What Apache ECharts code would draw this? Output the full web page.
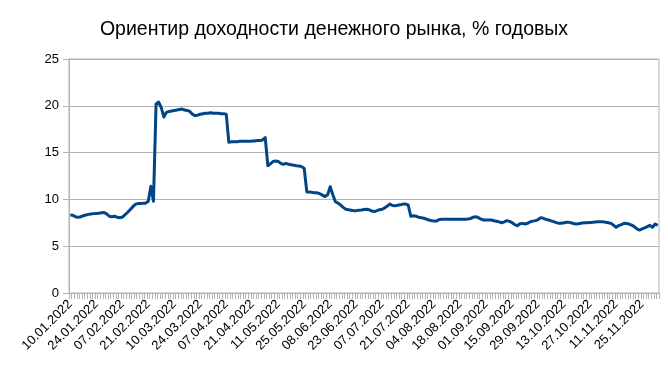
<!DOCTYPE html>
<html>
<head>
<meta charset="utf-8">
<script src="https://cdn.jsdelivr.net/npm/echarts@6/dist/echarts.min.js"></script>
<style>html,body{margin:0;padding:0;background:#fff}#c{width:668px;height:371px}</style>
</head>
<body>
<div id="c"></div>
<script>
// Trading days of 2022 shown on the chart (month -> days)
const tradingDays = [
  ["01", [10,11,12,13,14,17,18,19,20,21,24,25,26,27,28,31]],
  ["02", [1,2,3,4,7,8,9,10,11,14,15,16,17,18,21,22,24,25,28]],
  ["03", [1,2,3,4,9,10,11,14,15,16,17,18,21,22,23,24,25,28,29,30,31]],
  ["04", [1,4,5,6,7,8,11,12,13,14,15,18,19,20,21,22,25,26,27,28,29]],
  ["05", [4,5,6,11,12,13,16,17,18,19,20,23,24,25,26,27,30,31]],
  ["06", [1,2,3,6,7,8,9,10,14,15,16,17,20,21,22,23,24,27,28,29,30]],
  ["07", [1,4,5,6,7,8,11,12,13,14,15,18,19,20,21,22,25,26,27,28,29]],
  ["08", [1,2,3,4,5,8,9,10,11,12,15,16,17,18,19,22,23,24,25,26,29,30,31]],
  ["09", [1,2,5,6,7,8,9,12,13,14,15,16,19,20,21,22,23,26,27,28,29,30]],
  ["10", [3,4,5,6,7,10,11,12,13,14,17,18,19,20,21,24,25,26,27,28,31]],
  ["11", [1,2,3,7,8,9,10,11,14,15,16,17,18,21,22,23,24,25,28,29,30]],
  ["12", [1,2,5]]
];
const categories = [];
tradingDays.forEach(([m, ds]) => ds.forEach(d => categories.push(String(d).padStart(2,'0') + '.' + m + '.2022')));

const rates = [
  8.33, 8.3, 8.15, 8.08, 8.15, 8.25, 8.33, 8.4, 8.45, 8.48,
  8.5, 8.52, 8.58, 8.6, 8.45, 8.2, 8.15, 8.2, 8.1, 8.05,
  8.1, 8.35, 8.6, 8.9, 9.2, 9.47, 9.55, 9.55, 9.6, 9.6,
  9.8, 11.4, 9.8, 20.2, 20.4, 19.8, 18.8, 19.3, 19.4, 19.45,
  19.5, 19.55, 19.6, 19.65, 19.55, 19.5, 19.4, 19.1, 18.95, 19.0,
  19.1, 19.15, 19.2, 19.2, 19.25, 19.2, 19.2, 19.2, 19.15, 19.15,
  19.1, 16.1, 16.15, 16.15, 16.15, 16.2, 16.2, 16.2, 16.2, 16.2,
  16.25, 16.25, 16.3, 16.3, 16.35, 16.6, 13.6, 13.8, 14.05, 14.1,
  14.05, 13.85, 13.75, 13.85, 13.75, 13.7, 13.65, 13.6, 13.57, 13.5,
  13.3, 10.8, 10.8, 10.75, 10.7, 10.7, 10.6, 10.45, 10.3, 10.5,
  11.35, 10.5, 9.75, 9.6, 9.4, 9.15, 8.95, 8.9, 8.85, 8.8,
  8.8, 8.85, 8.87, 8.92, 8.95, 8.9, 8.75, 8.7, 8.8, 8.9,
  8.95, 9.1, 9.3, 9.5, 9.35, 9.33, 9.37, 9.42, 9.5, 9.5,
  9.4, 8.2, 8.25, 8.2, 8.1, 8.05, 7.98, 7.9, 7.8, 7.73,
  7.7, 7.7, 7.85, 7.87, 7.87, 7.87, 7.87, 7.87, 7.87, 7.87,
  7.87, 7.87, 7.87, 7.9, 7.95, 8.1, 8.15, 8.05, 7.9, 7.8,
  7.8, 7.8, 7.8, 7.72, 7.66, 7.6, 7.51, 7.6, 7.73, 7.65,
  7.51, 7.3, 7.19, 7.4, 7.44, 7.37, 7.45, 7.62, 7.68, 7.73,
  7.85, 8.05, 7.98, 7.87, 7.8, 7.7, 7.62, 7.52, 7.44, 7.45,
  7.5, 7.55, 7.55, 7.48, 7.4, 7.37, 7.42, 7.47, 7.5, 7.51,
  7.53, 7.55, 7.58, 7.6, 7.62, 7.6, 7.56, 7.5, 7.44, 7.25,
  7.02, 7.2, 7.3, 7.44, 7.42, 7.37, 7.25, 7.09, 6.85, 6.73,
  6.85, 6.95, 7.09, 7.23, 7.02, 7.37, 7.23
];

const yTicks = [0, 5, 10, 15, 20, 25];
const titleText = 'Ориентир доходности денежного рынка, % годовых';

const chart = echarts.init(document.getElementById('c'), null, {renderer: 'canvas'});
const font = '"Liberation Sans", Arial, sans-serif';
chart.setOption({
  animation: false,
  backgroundColor: '#ffffff',
  title: {
    text: titleText, left: 'center', top: 15,
    textStyle: {fontFamily: font, fontSize: 19.5, fontWeight: 'normal', color: '#000'}
  },
  grid: {left: 69, right: 9, top: 59, bottom: 78, show: true, borderColor: '#b3b3b3', borderWidth: 1},
  xAxis: {
    type: 'category', data: categories, boundaryGap: true,
    axisLine: {show: true, lineStyle: {color: '#b3b3b3', width: 1}},
    axisTick: {show: true, interval: 0, length: 6, lineStyle: {color: '#b3b3b3'}},
    axisLabel: {interval: 9, rotate: 45, fontFamily: font, fontSize: 13, color: '#000', margin: 9},
    splitLine: {show: false}
  },
  yAxis: {
    type: 'value', min: yTicks[0], max: yTicks[yTicks.length - 1], interval: 5,
    axisLine: {show: true, lineStyle: {color: '#b3b3b3', width: 1}},
    axisTick: {show: true, length: 6, lineStyle: {color: '#b3b3b3'}},
    axisLabel: {fontFamily: font, fontSize: 13, color: '#000', margin: 10},
    splitLine: {show: true, lineStyle: {color: '#b3b3b3', width: 1}}
  },
  series: [{
    type: 'line', data: rates, symbol: 'none', smooth: false,
    lineStyle: {color: '#004586', width: 3, join: 'round'}
  }]
});
</script>
</body>
</html>
